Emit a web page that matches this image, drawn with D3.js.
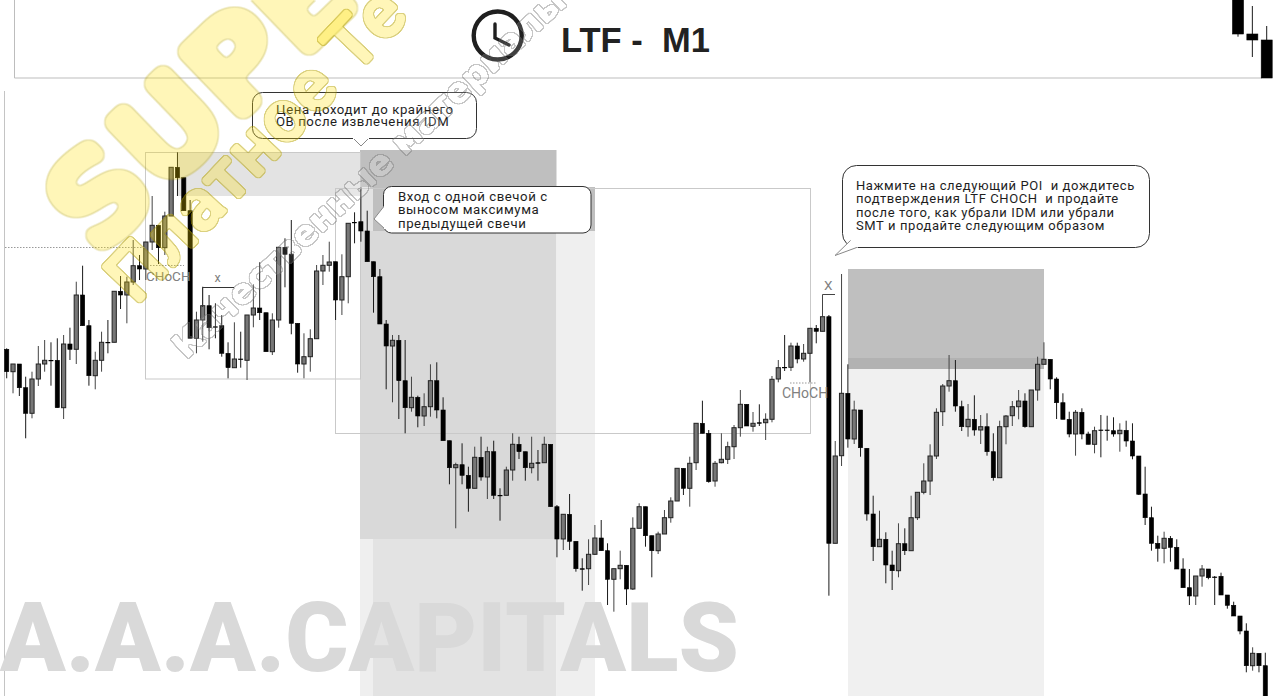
<!DOCTYPE html>
<html><head><meta charset="utf-8">
<script src="https://cdn.jsdelivr.net/npm/d3@7"></script>
<style>html,body{margin:0;padding:0;background:#fff;overflow:hidden}svg{display:block}text{white-space:pre}</style>
</head><body>
<svg id="c" width="1280" height="696"></svg>
<script>
const opens=[346.7,324.3,332,308.3,282.7,317,332,335.7,335.7,288.3,352,346.7,401,370.3,320.3,335.7,353.7,353.7,404.7,401,414,430.3,427,454,470.7,448.3,480,528.7,518.3,485.3,357.7,376,390.3,369.3,370.3,342.7,328.3,337,335.7,381,388,383.3,344.3,376,448.7,441.7,372.7,332,339.3,357.3,425,430.7,434.3,396,419.3,473.7,474.3,465,434.3,419.3,372,350,355.7,315.3,288.3,298.7,280,289.3,315.3,286,255.3,228.3,231.3,220.7,207.7,238.7,219,244.3,200.7,200.7,226,251.7,244.3,228.3,233.3,233.3,251.7,189.3,157,181.7,154.7,127.3,127.3,141.7,158,145.3,116.7,127.3,130.7,107,167.7,189.3,160.3,145.3,162,178.3,195,227.7,207.7,233.3,272.7,262.7,215,233.3,236.7,249.3,268.3,291.7,269.7,273.3,273.3,276.7,317,328.7,328.7,350,337,342.7,367.7,364.7,379.3,152.7,240.3,302.7,257,286,247.7,182,149.3,156.7,131,125.3,152.3,145.3,178.3,203.7,215,240,284.3,310,315.3,289.3,269.3,276.7,266,269.3,244.3,218.3,269.3,280.3,289.3,295,269.3,306,331.7,336.7,317,293.3,276.7,262,283.7,262,251.7,266,266,265.3,262.3,265.7,255,240,202,178.3,152.7,147.7,157.7,148.7,127,108.3,100,120,127,119,119.7,101,90.7,80,65,30.3,42.7,30.3];
const highs=[347.7,332,332,319.3,324.3,350,356,353.7,357.7,361,368.3,414.3,430.3,376,344.3,364.3,376,404.7,420,419.3,456,441,454,500,470.7,484.3,528.7,543.7,518.3,496,384.3,409.3,401,392.7,381,353.7,373.7,364.3,381,411.7,433.7,383.3,382.7,448.7,457.7,476,372.7,362.7,366.7,431,441,454.3,434.3,441.7,472.7,483.7,506.7,485.3,434.3,427,376,361,361,356,319.3,300.3,302.7,331.7,333.7,298.7,255.3,233.3,252.7,229.3,249.3,259.3,249.3,255.3,207.7,229.3,262.7,259.3,244.3,259.3,246,259.3,251.7,191,181.7,202,154.7,137.7,156.7,171,176,152.7,127.3,145.3,130.7,178.7,192.7,189.3,160.3,164.3,186,198.7,227.7,227.7,239.3,272.7,295.3,266,235,262.7,254.3,271,306,291.7,284,291.7,282.7,320,336,361,353.3,353.3,352,367.7,371,379.3,381,255,422,331.7,295.3,286,247.7,200.3,185.3,163.7,145.3,172.7,167.7,200.3,203.7,232.7,251.7,287.7,312,341,336,295.3,292,300.7,281,282.7,262.7,275.3,281,295,306,302.7,306,339.3,353.7,336.7,318.7,302.7,284.3,286,287.7,264.3,269.3,281,280.3,278.7,272.7,275.3,272.7,240,229.3,189.3,160.3,164.3,160,156.7,137.7,127,120,131,127,120,123.3,101,94.3,80,72.7,48.7,42.7,43.3];
const lows=[317.7,302.7,300,257.7,277.7,310,324.3,310.3,288.3,277,336,332,370.3,310.3,306.7,324.3,342.7,353.7,387,372.7,411,416,416,446,432,441,480,500,485.3,357.7,342.7,354.3,346.7,357.7,339.3,317.7,328.3,328.3,316,368.7,376,344.3,341,368.3,408.7,361.7,323.3,317.7,324.3,357.3,411,424.3,376,381,392.7,452.7,454.3,434.3,383.3,372,306.7,293.7,277,262.7,284.3,268.7,270,279.3,277.7,255.3,211.7,167.7,211.7,184.3,207.7,215.3,197,197,175.3,200.7,215.3,237,215.3,222.7,215.3,233.3,189.3,138.7,146,146,124.3,105.3,111,141,145.3,91,84.3,116.7,91,106,167.7,149.3,118.7,142,162,173.3,195,201,189.3,226,262.7,213.3,209.3,232.7,232,237,259.3,270,264.3,270,256,273.7,313.7,325,325,332.7,334.3,313.7,352.7,364.7,100.3,152.7,230,248.3,252,239.3,175.3,135,149.3,112.7,106,118.7,141,145.3,176,201.7,201,237,270,304.3,284.3,265,259.3,260.3,252,240.3,215.3,218.3,251.7,270,276.7,268.3,269.3,295.3,331.7,306.7,277,276.7,258.7,240.3,256.7,251.7,242.7,238.7,255.3,259.3,244.3,249.3,236.7,201,171,145.3,134.3,132.7,134.3,127,108.3,91,91,109.3,116.7,91,101,87.3,80,61.7,23.7,25.3,23.7,-4];
const closes=[324.3,332,308.3,282.7,317,332,335.7,335.7,288.3,352,346.7,401,370.3,320.3,335.7,353.7,353.7,404.7,401,414,430.3,427,454,470.7,448.3,480,528.7,518.3,485.3,357.7,376,390.3,368.3,369.3,342.7,328.3,337,337,381,388,383.3,344.3,376,448.7,441.7,372.7,332,339.3,357.3,425,430.7,434,396,419.3,472.7,473.7,465,434.3,419.3,372,350,355.7,315.3,288.3,298.7,280,289.3,315.3,286,255.3,228.3,231.3,220.7,207.7,238.7,219,244.3,200.7,200.7,226,251.7,244.3,228.3,232.7,233.3,251.7,189.3,157,181.7,154.7,127.3,127.3,141.7,158,145.3,116.7,127.3,130.7,107,167.7,189.3,160.3,145.3,162,178.3,195,227.7,207.7,232.7,272.7,262.7,214.3,232.7,236.7,249.3,268.3,291.7,270,272.7,273.3,276.7,316.7,328.3,328.7,350,337,342.7,367.7,364.7,379.3,152.7,240,302.7,257,286,248.3,182,149.3,156.7,131,125.3,152.3,145.3,178.3,203.7,215,240,283.7,310,315.3,290,269.3,276.7,266,269.3,244.3,218.3,269.3,280,289.3,295,269.3,306,331.7,336.7,317,293.3,276.7,262,283.7,262,251.7,265.3,266,266,262,265.7,255,240,201.7,178.3,152.7,147.7,157.7,148.7,127,108.3,100,120,127,118.3,119,101,90.7,80,65,30.3,42.7,30.3,-4];
const headerOpens=[700,662,656], headerHighs=[700,690,670], headerLows=[659.3,639,618], headerCloses=[662,656,618];
const titleText="LTF -  M1";
const brandText="A.A.A.CAPITALS";
const calloutEntry=["Цена доходит до крайнего","ОВ после извлечения IDM"];
const calloutSweep=["Вход с одной свечой с","выносом максимума","предыдущей свечи"];
const calloutNext=["Нажмите на следующий POI  и дождитесь","подтверждения LTF CHOCH  и продайте","после того, как убрали IDM или убрали","SMT и продайте следующим образом"];

const W=1280,H=696;
const svg=d3.select("#c");
const x=d3.scaleLinear().domain([0,opens.length-1]).range([6.7,1265.3]);
const y=d3.scaleLinear().domain([0,H]).range([H,0]);
const xh=d3.scaleLinear().domain([0,2]).range([1238,1266.7]);
const G1="#bfbfbf",G2="#d9d9d9",G3="#e3e3e3",G4="#efefef",LINE="#c9c9c9";

const zones=[
 [177,152,360,196,G3],
 [360,150,556.5,187,G1],
 [360,187,373,231,G3],
 [373,187,595,231,G1],
 [360,231,556.5,539,G2],
 [556.5,231,595,539,G4],
 [360,539,373,696,G4],
 [373,539,556.5,696,G3],
 [556.5,539,595,696,G4],
 [848,269,1044,358,G1],
 [848,358,1044,369,"#b2b2b2"],
 [848,369,1044,696,"#f0f0f0"]
];
svg.append("g").selectAll("rect").data(zones).join("rect")
 .attr("x",d=>d[0]).attr("y",d=>d[1]).attr("width",d=>d[2]-d[0]).attr("height",d=>d[3]-d[1]).attr("fill",d=>d[4]);

const frames=[[145,152,360,378.5],[335,188,810,433]];
svg.append("g").selectAll("rect").data(frames).join("rect")
 .attr("x",d=>d[0]+.5).attr("y",d=>d[1]+.5).attr("width",d=>d[2]-d[0]).attr("height",d=>d[3]-d[1])
 .attr("fill","none").attr("stroke",LINE).attr("stroke-width",1);
svg.append("path").attr("d","M14.5,0V78H1262").attr("fill","none").attr("stroke","#bdbdbd").attr("stroke-width",1);
svg.append("path").attr("d","M4.5,91V696").attr("fill","none").attr("stroke","#c4c4c4").attr("stroke-width",1);

svg.append("text").attr("x",0).attr("y",671).attr("font-family","Roboto").attr("font-weight",900)
 .attr("font-size",96).attr("fill",G2).attr("textLength",739).attr("lengthAdjust","spacingAndGlyphs").text(brandText);

function candles(g,idx,sx,o,h,l,c,w){
 const sel=g.selectAll("g").data(idx).join("g");
 sel.append("line").attr("x1",i=>sx(i)).attr("x2",i=>sx(i)).attr("y1",i=>y(h[i])).attr("y2",i=>y(l[i]))
  .attr("stroke",i=>c[i]>o[i]?"#444":"#1a1a1a").attr("stroke-width",1);
 sel.append("rect").attr("x",i=>sx(i)-w/2).attr("width",w)
  .attr("y",i=>y(Math.max(o[i],c[i]))).attr("height",i=>Math.max(.6,Math.abs(y(o[i])-y(c[i]))))
  .attr("fill",i=>c[i]>o[i]?"#777":"#000")
  .attr("stroke",i=>c[i]>o[i]?"#222":"#000").attr("stroke-width",i=>c[i]>o[i]?1:.6);
}
candles(svg.append("g"),d3.range(opens.length),x,opens,highs,lows,closes,4.2);
candles(svg.append("g"),d3.range(3),xh,headerOpens,headerHighs,headerLows,headerCloses,11);

const dotted=[[5,247,145],[150,265,184],[790,382.5,817]];
svg.append("g").selectAll("line").data(dotted).join("line")
 .attr("x1",d=>d[0]).attr("x2",d=>d[2]).attr("y1",d=>d[1]+.5).attr("y2",d=>d[1]+.5)
 .attr("stroke","#999").attr("stroke-width",1).attr("stroke-dasharray","1.5 1.5");
svg.append("path").attr("d","M202.5,307V287.5H234").attr("fill","none").attr("stroke","#333");
svg.append("path").attr("d","M822.5,316V294.5H835").attr("fill","none").attr("stroke","#444");
const notes=[["CHoCH",146,281,13.5],["x",214.5,282,12.5],["CHoCH",782,398,14],["X",824,290,13.5]];
svg.append("g").selectAll("text").data(notes).join("text")
 .attr("x",d=>d[1]).attr("y",d=>d[2]).attr("font-size",d=>d[3]).attr("font-family","Roboto").attr("fill","#808080").text(d=>d[0]);

function callout(r,rad,ptr,lines,tx,ty,lh,fs,ls){
 const g=svg.append("g");
 g.append("rect").attr("x",r[0]+.5).attr("y",r[1]+.5).attr("width",r[2]-r[0]).attr("height",r[3]-r[1]).attr("rx",rad)
  .attr("fill","#fff").attr("stroke","#333").attr("stroke-width",1);
 g.append("path").attr("d",d3.line()(ptr)).attr("fill","#fff").attr("stroke","#888").attr("stroke-width",1);
 g.append("path").attr("d",d3.line()([ptr[0],ptr[2]])).attr("stroke","#fff").attr("stroke-width",2);
 g.selectAll("text").data(lines).join("text").attr("x",tx).attr("y",(d,i)=>ty+i*lh)
  .attr("font-family","Roboto").attr("font-size",fs).attr("letter-spacing",ls).attr("fill","#1e1e1e").text(d=>d);
}
callout([252,92,476,138],10,[[353,138],[361,146],[369,138]],calloutEntry,276,113.5,12.8,13.2,.55);
callout([383,186,590.5,232.5],8,[[385,205],[374,219],[385,229]],calloutSweep,398,201,13.4,13.2,.55);
callout([842,165,1149,247],14,[[851,240],[835,255.5],[858,247]],calloutNext,856,190,13.4,13,.6);

svg.append("text").attr("x",561).attr("y",51.5).attr("font-family","Liberation Sans").attr("font-weight",700)
 .attr("font-size",34.5).attr("fill","#222").text(titleText);
const clock=svg.append("g").attr("fill","none").attr("stroke","#1f1f1f").attr("stroke-linecap","round");
clock.append("circle").attr("cx",497.7).attr("cy",35.5).attr("r",24).attr("stroke-width",4.4);
clock.append("path").attr("d","M495,24V38L509,45").attr("stroke-width",3.4);

const defs=svg.append("defs");
function glowFilter(id,sigma,fill,fillOp,rim,rimOp){
 const f=defs.append("filter").attr("id",id).attr("filterUnits","userSpaceOnUse")
  .attr("x",0).attr("y",0).attr("width",W).attr("height",H);
 f.append("feGaussianBlur").attr("in","SourceAlpha").attr("stdDeviation",sigma).attr("result","b");
 f.append("feComponentTransfer").attr("in","b").attr("result","d1")
  .append("feFuncA").attr("type","linear").attr("slope",8).attr("intercept",-.9);
 f.append("feMorphology").attr("in","d1").attr("operator","dilate").attr("radius",1).attr("result","d2");
 f.append("feComposite").attr("in","d2").attr("in2","d1").attr("operator","out").attr("result","ring");
 f.append("feFlood").attr("flood-color",fill).attr("flood-opacity",fillOp);
 f.append("feComposite").attr("in2","d1").attr("operator","in").attr("result","body");
 f.append("feFlood").attr("flood-color",rim).attr("flood-opacity",rimOp);
 f.append("feComposite").attr("in2","ring").attr("operator","in").attr("result","edge");
 const m=f.append("feMerge").attr("result","all");
 m.append("feMergeNode").attr("in","body");
 m.append("feMergeNode").attr("in","edge");
 f.append("feGaussianBlur").attr("in","all").attr("stdDeviation",.7);
}
glowFilter("wmBig",4,"#ffe000",.28,"#b8a400",.45);
glowFilter("wmMid",1,"#ffe000",.28,"#b8a400",.5);
glowFilter("wmGrey",.5,"#ffffff",.14,"#777777",.42);
const marks=[
 {t:"SUPER",x:97,y:258,r:-44,fs:125,f:"wmBig",font:"DejaVu Sans",w:700},
 {t:"Платное Те",x:136,y:306,r:-46.5,fs:72,f:"wmMid",font:"Roboto",w:500,len:398},
 {t:"Качественные материалы",x:186,y:360,r:-43,fs:34.5,f:"wmGrey",font:"DejaVu Sans",w:700}
];
const wm=svg.append("g");
marks.forEach(m=>{
 const t=wm.append("g").attr("filter",`url(#${m.f})`).append("text")
  .attr("transform",`translate(${m.x},${m.y}) rotate(${m.r})`)
  .attr("font-family",m.font).attr("font-weight",m.w).attr("font-size",m.fs).attr("fill","#000").text(m.t);
 if(m.len) t.attr("textLength",m.len).attr("lengthAdjust","spacing");
});
</script>
</body></html>
